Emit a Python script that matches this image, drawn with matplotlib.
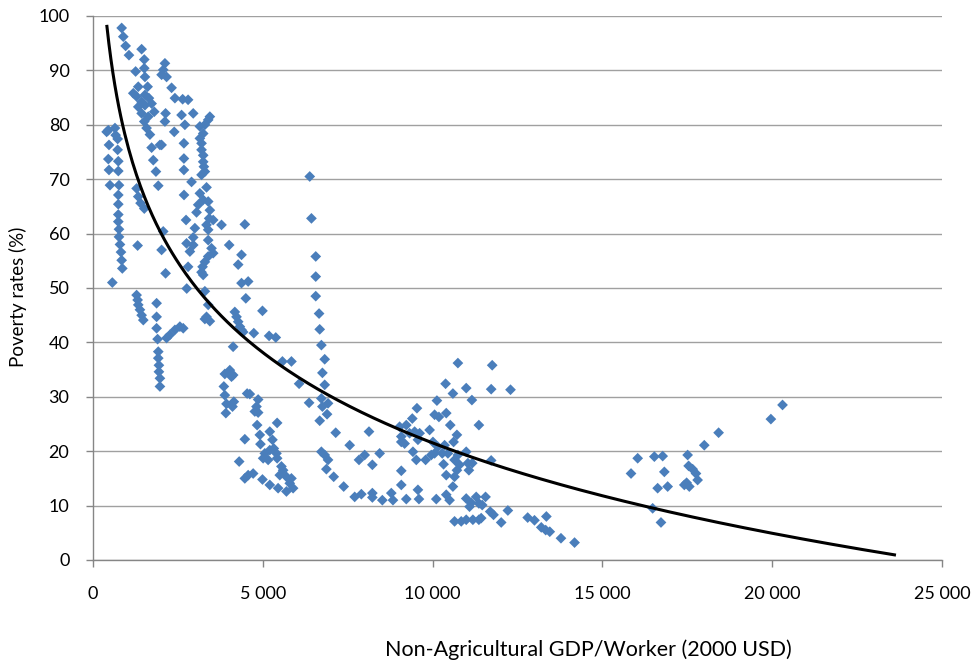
import numpy as np
import matplotlib
matplotlib.use("Agg")
import matplotlib.pyplot as plt
from matplotlib.ticker import FuncFormatter

# Country-year observations: non-agricultural GDP per worker (2000 USD) and poverty rate (%)
gdp_low = [402, 451, 471, 451, 471, 500, 569,
           647, 667, 726, 726, 745, 745, 765, 745, 745, 745, 745, 765, 765, 794, 824, 844, 863,
           844, 892, 961, 1059, 1432, 1510, 1510, 1255, 1530, 2118, 2068, 2020, 2167, 2314,
           1333, 1608, 1186, 1284, 1530, 1647, 1432, 1726, 1333, 1530, 1803, 1432, 2137, 1627,
           2412, 2640, 2800, 2118, 1510, 1578, 1676, 2392, 1726, 1971, 2020, 1775, 1853, 1922,
           1284, 1333, 1400, 1510, 2680,
           2608, 2951, 2706, 3441, 3392, 3147, 3294, 3245, 3147, 2677, 3196, 3196, 3245, 2677,
           3245, 3265, 2677, 3294, 3196, 2902, 3147, 3343, 3245,
           1314, 2068, 2020, 2137, 2740, 2760, 2800, 2755, 2951, 2853,
           1284, 1314, 1333, 1382, 1432, 1481, 1873, 1873, 1873, 1902, 2167, 2265, 2412, 2559,
           2657, 1922, 1922, 1941, 1941, 1971, 1971]
pov_low = [78.7, 79.0, 76.3, 73.7, 71.7, 68.9, 51.0,
           79.4, 78.1, 77.4, 75.4, 73.3, 71.5, 68.9, 67.1, 65.4, 63.5, 62.2, 60.8, 59.4, 58.0, 56.6, 55.1, 53.6,
           97.8, 96.2, 94.5, 92.8, 93.9, 92.0, 90.4, 89.8, 88.8, 91.3, 90.1, 89.2, 88.8, 86.8,
           87.0, 87.0, 85.8, 85.2, 85.5, 84.9, 84.2, 83.9, 83.3, 83.6, 82.4, 82.1, 82.1, 81.5,
           84.9, 84.7, 84.6, 80.6, 80.6, 79.4, 78.2, 78.7, 75.8, 76.3, 76.3, 73.5, 71.4, 68.8,
           68.3, 66.8, 65.6, 64.6, 67.1,
           81.8, 82.1, 80.0, 81.5, 80.9, 79.7, 80.0, 78.4, 77.5, 76.6, 76.6, 75.4, 74.4, 73.8,
           73.2, 72.3, 71.7, 71.4, 70.8, 69.5, 67.4, 68.5, 66.2,
           57.8, 60.4, 57.0, 52.7, 62.5, 49.9, 53.9, 58.2, 57.9, 56.7,
           48.7, 47.8, 46.9, 46.0, 45.0, 44.1, 47.2, 44.7, 42.6, 40.6, 40.8, 41.4, 42.3, 42.9,
           42.6, 38.3, 37.1, 35.8, 34.6, 33.4, 31.9]

gdp_mid = [3392, 3098, 3441, 3049, 3420, 3539, 3784, 4471, 3343, 3392, 3000, 2951, 3392, 3490,
           3539, 4010, 3392, 4373, 3294, 4275, 3226, 3196, 3245, 4373, 4569, 3294, 4500, 3392,
           3343, 3294, 3441, 4176, 4226, 4275, 4324, 4373, 4422, 4735, 4126,
           4029, 3882, 4127, 4078, 3853, 3882, 4539, 3931, 4147, 4108, 3912, 4471, 4304, 4716,
           4471, 4569,
           6432, 6559, 6559, 6559, 6657, 6676, 6725, 6823, 6755, 6823, 4990, 5186, 5382, 5578,
           5843, 6069, 6382,
           6363, 6725, 6921, 6755, 6892, 6676, 7147, 4618, 4863, 4814, 4765, 4863, 4833, 5422,
           4912, 5206, 5284, 4931, 5324, 5206, 5059, 5402, 5010, 5157, 5422, 5549, 5598, 5500,
           5696, 5843, 5794, 5892, 5696, 5451, 5206, 4990, 6725, 6823, 6921, 6872, 7088]
pov_mid = [65.9, 65.3, 64.3, 63.9, 62.8, 62.5, 61.6, 61.7, 61.6, 60.7, 61.0, 59.3, 58.8, 57.3,
           56.4, 57.9, 55.8, 56.1, 54.8, 54.3, 53.9, 52.9, 52.4, 50.9, 51.2, 49.4, 48.1, 46.9,
           44.7, 44.3, 43.9, 45.6, 44.7, 43.8, 42.9, 42.3, 41.9, 41.7, 39.2,
           34.9, 34.2, 34.0, 33.7, 31.9, 30.3, 30.6, 28.7, 29.1, 28.2, 27.0, 22.2, 18.1, 15.9,
           15.0, 15.6,
           62.8, 55.8, 52.1, 48.5, 45.3, 42.4, 39.5, 36.9, 34.4, 32.2, 45.8, 41.2, 40.9, 36.5,
           36.5, 32.4, 70.5,
           28.9, 29.7, 28.8, 28.2, 26.8, 25.6, 23.4, 30.5, 29.5, 28.2, 27.3, 27.1, 24.8, 25.2,
           23.0, 23.6, 22.1, 21.3, 20.5, 20.2, 19.6, 19.6, 18.7, 18.4, 18.7, 17.2, 16.5, 15.6,
           15.3, 15.0, 14.1, 13.2, 12.6, 13.2, 13.8, 14.8, 19.9, 19.3, 18.4, 16.7, 15.3]

gdp_high = [7382, 7559, 8127, 7833, 8000, 8226, 8441, 7706, 7902, 8226, 8226, 8520, 8784, 8833,
            9078, 9078, 9225, 9568, 9598, 10108, 10402, 9029, 9225, 9402, 9539, 9078, 9176, 9078,
            9323, 9471, 9618, 9568, 9421, 9520, 9794, 9912, 9961, 10059, 10157, 10127, 10059,
            10186, 10382, 10323, 10402, 10010, 10402,
            10745, 11755, 10598, 10990, 11725, 12294, 11157, 10520, 11363, 10716, 10618, 10353,
            10284, 10451, 10745, 10990, 10647, 10794, 11039, 11167, 11725, 10716, 11069, 10647,
            10598, 10500, 10990, 11137, 11284, 11363, 11559, 11461, 11088, 11696, 11794, 12020,
            12216, 10647, 10843, 10990, 11186, 11363, 11431,
            12800, 13000, 13200, 13350, 13330, 13450, 13780, 14180,
            15843, 16039, 16530, 16775, 16824, 16627, 16922, 16480, 16725, 17510, 17539, 17657,
            17755, 17804, 17412, 17559, 17480, 18000, 18422, 19961, 20304]
pov_high = [13.5, 21.1, 23.6, 18.4, 19.3, 17.5, 19.6, 11.6, 12.1, 12.3, 11.5, 11.0, 12.3, 11.0,
            13.8, 16.4, 11.2, 12.9, 11.2, 11.2, 12.0, 24.5, 24.8, 26.0, 27.9, 22.7, 21.4, 21.7,
            23.3, 23.6, 23.3, 22.1, 19.9, 18.4, 18.4, 23.9, 19.3, 19.6, 20.8, 29.3, 26.7,
            26.3, 32.4, 17.6, 15.6, 21.7, 27.0,
            36.2, 35.8, 30.6, 31.6, 31.4, 31.3, 29.4, 24.8, 24.8, 23.0, 21.7, 21.1,
            19.6, 19.6, 19.3, 19.9, 18.4, 17.5, 17.8, 17.8, 18.3, 16.5, 16.5, 15.3,
            13.5, 11.0, 11.3, 10.5, 11.6, 10.4, 11.6, 10.1, 9.8, 8.9, 8.3, 6.9,
            9.1, 7.1, 7.1, 7.4, 7.4, 7.4, 7.7,
            7.8, 7.3, 6.0, 8.0, 5.5, 5.2, 4.0, 3.2,
            15.9, 18.7, 19.0, 19.1, 16.2, 13.2, 13.5, 9.5, 6.9, 19.3, 17.3, 16.7,
            15.9, 14.7, 13.8, 13.5, 14.2, 21.1, 23.4, 25.9, 28.5]

# Logarithmic trend: poverty = a + b * ln(gdp)
trend_a = 242.3
trend_b = -23.97
trend_x_start = 410
trend_x_end = 23600

x_ticks = [0, 5000, 10000, 15000, 20000, 25000]
y_ticks = [0, 10, 20, 30, 40, 50, 60, 70, 80, 90, 100]

gdp = np.array(gdp_low + gdp_mid + gdp_high, dtype=float)
pov = np.array(pov_low + pov_mid + pov_high, dtype=float)

plt.rcParams['font.family'] = ['Lato', 'DejaVu Sans']

fig = plt.figure(figsize=(9.78, 6.65), dpi=100)
ax = fig.add_axes([93 / 978, (665 - 560) / 665, (942 - 93) / 978, (560 - 16) / 665])

grid_color = '#A0A0A0'
ax.set_axisbelow(True)
ax.yaxis.grid(True, color=grid_color, linewidth=1.0)
ax.xaxis.grid(False)

ax.scatter(gdp, pov, marker='D', s=30, color='#4A7EBB', edgecolors='none', zorder=3)

tx = np.linspace(trend_x_start, trend_x_end, 400)
ax.plot(tx, trend_a + trend_b * np.log(tx), color='black', linewidth=2.2, zorder=4)

ax.set_xlim(0, 25000)
ax.set_ylim(0, 100)
ax.set_xticks(x_ticks)
ax.set_yticks(y_ticks)
ax.xaxis.set_major_formatter(FuncFormatter(lambda v, p: f"{int(v):,}".replace(",", " ")))

for side in ('top', 'right'):
    ax.spines[side].set_visible(False)
for side in ('left', 'bottom'):
    ax.spines[side].set_color('#868686')
    ax.spines[side].set_linewidth(1.0)

ax.tick_params(axis='both', which='major', direction='out', length=5, width=1,
               color='#868686', labelsize=13, labelcolor='black')
ax.tick_params(axis='x', pad=14)
ax.tick_params(axis='y', pad=12)

ax.set_xlabel('Non-Agricultural GDP/Worker (2000 USD)', fontsize=15.5, va='center')
ax.xaxis.set_label_coords((588 - 93) / 849, -(650 - 560) / 544)
ax.set_ylabel('Poverty rates (%)', fontsize=13.5, va='center')
ax.yaxis.set_label_coords(-(93 - 18) / 849, (560 - 297) / 544)

fig.savefig('out.png', dpi=100)
